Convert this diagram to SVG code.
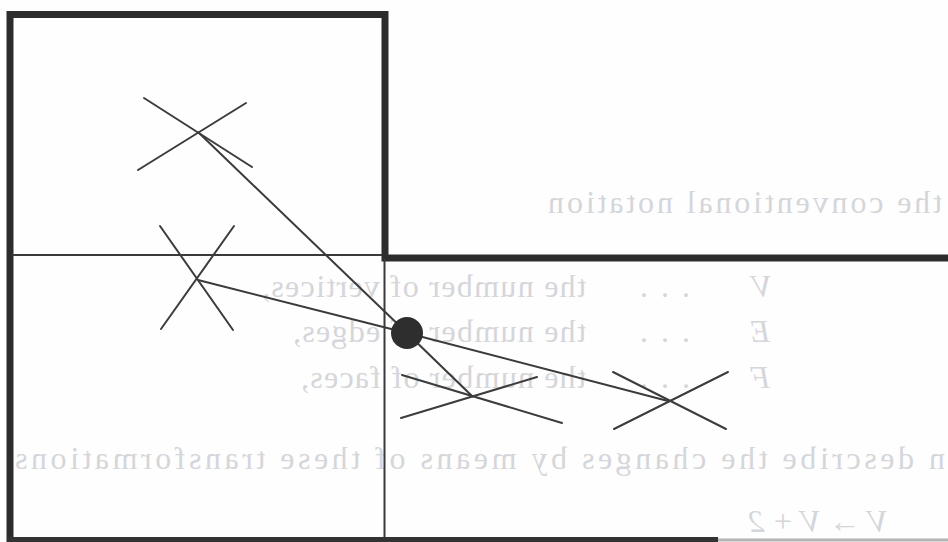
<svg xmlns="http://www.w3.org/2000/svg" width="948" height="542" viewBox="0 0 948 542">
<defs>
<style>
.bg{fill:#fefefe}
.frame{fill:none;stroke:#2c2c2c;stroke-width:7;stroke-linejoin:miter}
.thin{fill:none;stroke:#3a3a3a;stroke-width:2}
.xm{fill:none;stroke:#3c3c3c;stroke-width:2;stroke-linecap:round}
.conn{fill:none;stroke:#3a3a3a;stroke-width:2}
.dot{fill:#2e2e2e}
.ghost{font-family:"Liberation Serif","DejaVu Serif",serif;font-size:32px;fill:#d5d6da}
.gi{font-style:italic}
</style>
</defs>
<rect class="bg" x="0" y="0" width="948" height="542"/>

<g id="show-through">
<text class="ghost" transform="translate(942,0) scale(-1,1)" x="0" y="213" textLength="394" lengthAdjust="spacing">the conventional notation</text>
<text class="ghost gi" transform="translate(772,0) scale(-1,1)" x="0" y="297">V</text>
<text class="ghost" transform="translate(690,0) scale(-1,1)" x="0" y="297" textLength="50" lengthAdjust="spacing">. . .</text>
<text class="ghost" transform="translate(586,0) scale(-1,1)" x="0" y="297" textLength="324" lengthAdjust="spacing">the number of vertices,</text>
<text class="ghost gi" transform="translate(770,0) scale(-1,1)" x="0" y="342">E</text>
<text class="ghost" transform="translate(690,0) scale(-1,1)" x="0" y="342" textLength="50" lengthAdjust="spacing">. . .</text>
<text class="ghost" transform="translate(586,0) scale(-1,1)" x="0" y="342" textLength="293" lengthAdjust="spacing">the number of edges,</text>
<text class="ghost gi" transform="translate(770,0) scale(-1,1)" x="0" y="388">F</text>
<text class="ghost" transform="translate(690,0) scale(-1,1)" x="0" y="388" textLength="50" lengthAdjust="spacing">. . .</text>
<text class="ghost" transform="translate(586,0) scale(-1,1)" x="0" y="388" textLength="285" lengthAdjust="spacing">the number of faces,</text>
<text class="ghost" transform="translate(945,0) scale(-1,1)" x="0" y="469" textLength="930" lengthAdjust="spacing">n describe the changes by means of these transformations</text>
<text class="ghost gi" transform="translate(888,0) scale(-1,1)" x="0" y="532">V → V + 2</text>
</g>

<g id="frame">
<path class="frame" d="M10,542 V14.5 H385 V258 H948"/>
<path class="thin" d="M12,255 H382"/>
<path class="thin" d="M384.5,259 V542"/>
<path d="M7,539.5 H718" stroke="#333" stroke-width="5" fill="none"/>
<path d="M718,540 H948" stroke="#b4b4b4" stroke-width="3" fill="none"/>
</g>

<g id="connectors">
<line class="conn" x1="198" y1="132" x2="407" y2="333"/>
<line class="conn" x1="198" y1="280" x2="407" y2="333"/>
<line class="conn" x1="407" y1="333" x2="473" y2="397"/>
<line class="conn" x1="407" y1="333" x2="668" y2="401"/>
</g>

<g id="x1">
<line class="xm" x1="144" y1="98" x2="252" y2="167"/>
<line class="xm" x1="138" y1="170" x2="246" y2="103"/>
</g>
<g id="x2">
<line class="xm" x1="160" y1="226" x2="233" y2="330"/>
<line class="xm" x1="234" y1="226" x2="161" y2="329"/>
</g>
<g id="x3">
<line class="xm" x1="402" y1="375" x2="562" y2="423"/>
<line class="xm" x1="401" y1="418" x2="537" y2="377"/>
</g>
<g id="x4">
<line class="xm" x1="613" y1="372" x2="726" y2="429"/>
<line class="xm" x1="614" y1="429" x2="728" y2="372"/>
</g>
<g id="vertex">
<circle class="dot" cx="407" cy="333" r="16"/>
</g>
</svg>
